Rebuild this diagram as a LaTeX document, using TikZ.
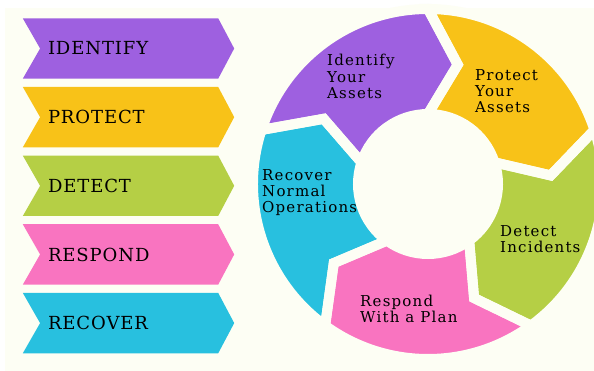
\documentclass[tikz,border=0pt]{standalone}
\usepackage{fontspec}
\setmainfont{DejaVu Serif}
\newfontfamily\tagfont[LetterSpace=5]{DejaVu Serif}
\newfontfamily\ringfont[LetterSpace=8]{DejaVu Serif}
\usetikzlibrary{positioning,backgrounds}

\definecolor{cream}{RGB}{253,254,244}
\definecolor{idcol}{RGB}{158,96,224}
\definecolor{protcol}{RGB}{248,194,24}
\definecolor{detcol}{RGB}{181,207,69}
\definecolor{respcol}{RGB}{249,116,192}
\definecolor{reccol}{RGB}{40,192,223}

% one arrow piece of the ring: starts at angle #1, runs 72 deg clockwise
\newcommand{\ringseg}[1]{%
  (#1:175) arc[start angle=#1, end angle=#1-72, radius=175]
  -- (#1-86:123) -- (#1-72:70)
  arc[start angle=#1-72, end angle=#1, radius=70]
  -- (#1-14:123) -- cycle}

\begin{document}
\begin{tikzpicture}[
    x=1pt, y=1pt,
    node distance=8.25pt,
    tag/.style={rectangle, minimum height=60pt, text width=161pt,
      inner xsep=25pt, inner ysep=0pt, align=left, text=black,
      font=\tagfont\fontsize{18}{20}\selectfont},
    ringlbl/.style={anchor=base west, inner sep=0pt, align=left, text=black,
      font=\ringfont\fontsize{15}{16.2}\selectfont},
    gapline/.style={draw=cream, line width=10pt, line join=miter}
]

\clip (0,0) rectangle (594,-371);

% the five functions, stacked on the left
\node[tag] (identify) at (128.5,-48.5) {IDENTIFY};
\node[tag, below=of identify] (protect) {PROTECT};
\node[tag, below=of protect]  (detect)  {DETECT};
\node[tag, below=of detect]   (respond) {RESPOND};
\node[tag, below=of respond]  (recover) {RECOVER};

\begin{scope}[on background layer]
  \fill[white] (0,0) rectangle (594,-371);
  \fill[cream] (5,-8) rectangle (594,-371);
  % chevron behind each function name
  \foreach \n/\c in {identify/idcol, protect/protcol, detect/detcol,
                     respond/respcol, recover/reccol}
    \fill[\c] (\n.north west) -- ([xshift=-16pt]\n.north east) -- (\n.east)
      -- ([xshift=-16pt]\n.south east) -- (\n.south west)
      -- ([xshift=17.3pt]\n.west) -- cycle;
\end{scope}

% the cycle
\begin{scope}[shift={(428,-184)}]
  \foreach \b/\c in {162/idcol, 90/protcol, 18/detcol, -54/respcol, -126/reccol}
    \fill[\c] \ringseg{\b};
  % cut the gaps between the pieces
  \foreach \b in {162, 90, 18, -54, -126}
    \draw[gapline] \ringseg{\b};
\end{scope}

% labels sit on the baseline of their last line
\node[ringlbl] (ringid)   at (327,-98.3)  {Identify\\Your\\Assets};
\node[ringlbl] (ringprot) at (475,-112.7) {Protect\\Your\\Assets};
\node[ringlbl] (ringdet)  at (500,-252.3) {Detect\\Incidents};
\node[ringlbl] (ringresp) at (360,-322.7) {Respond\\With a Plan};
\node[ringlbl] (ringrec)  at (262,-212.7) {Recover\\Normal\\Operations};

\end{tikzpicture}
\end{document}
